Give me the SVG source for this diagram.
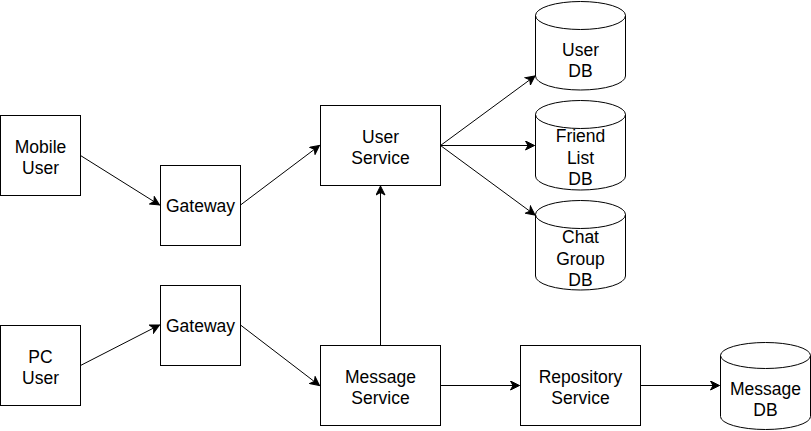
<svg xmlns="http://www.w3.org/2000/svg" width="811" height="431" viewBox="0 0 811 431">
<defs>
<style>
.box{fill:#fff;stroke:#000;stroke-width:1}
.t{font-family:"Liberation Sans",Arial,sans-serif;font-size:17.5px;fill:#000;text-anchor:middle}
.c{fill:none;stroke:#000;stroke-width:1}
</style>
<marker id="ah" markerUnits="userSpaceOnUse" markerWidth="12" markerHeight="10" viewBox="-10 -5 12 10" refX="0" refY="0" orient="auto">
<path d="M-9,-4.5 L0,0 L-9,4.5 L-6.5,0 Z" fill="#000" stroke="#000" stroke-width="1"/>
</marker>
</defs>
<rect width="811" height="431" fill="#fff"/>
<g id="connectors">
<line class="c" x1="80.5" y1="155.5" x2="159.5" y2="205" marker-end="url(#ah)"/>
<line class="c" x1="240.5" y1="205" x2="319.5" y2="145.5" marker-end="url(#ah)"/>
<line class="c" x1="80.5" y1="365.5" x2="159.5" y2="325" marker-end="url(#ah)"/>
<line class="c" x1="240.5" y1="325" x2="319.5" y2="385.5" marker-end="url(#ah)"/>
<line class="c" x1="380.5" y1="345" x2="380.5" y2="186" marker-end="url(#ah)"/>
<line class="c" x1="440.5" y1="385.5" x2="519.5" y2="385.5" marker-end="url(#ah)"/>
<line class="c" x1="640.5" y1="385.5" x2="719.5" y2="385.5" marker-end="url(#ah)"/>
<line class="c" x1="440.5" y1="145.5" x2="535" y2="76" marker-end="url(#ah)"/>
<line class="c" x1="440.5" y1="145.5" x2="534.5" y2="145.5" marker-end="url(#ah)"/>
<line class="c" x1="440.5" y1="145.5" x2="535" y2="215" marker-end="url(#ah)"/>
</g>
<g id="mobile-user">
<rect class="box" x="0.5" y="115.5" width="80" height="80"/>
<text class="t" x="40.5" y="153">Mobile</text>
<text class="t" x="40.5" y="174">User</text>
</g>
<g id="pc-user">
<rect class="box" x="0.5" y="325.5" width="80" height="80"/>
<text class="t" x="40.5" y="363">PC</text>
<text class="t" x="40.5" y="384">User</text>
</g>
<g id="gateway-1">
<rect class="box" x="160.5" y="165.5" width="80" height="80"/>
<text class="t" x="200.5" y="212">Gateway</text>
</g>
<g id="gateway-2">
<rect class="box" x="160.5" y="285.5" width="80" height="80"/>
<text class="t" x="200.5" y="332">Gateway</text>
</g>
<g id="user-service">
<rect class="box" x="320.5" y="105.5" width="120" height="80"/>
<text class="t" x="380.5" y="142.5">User</text>
<text class="t" x="380.5" y="163.5">Service</text>
</g>
<g id="message-service">
<rect class="box" x="320.5" y="345.5" width="120" height="80"/>
<text class="t" x="380.5" y="382.5">Message</text>
<text class="t" x="380.5" y="403.5">Service</text>
</g>
<g id="repository-service">
<rect class="box" x="520.5" y="345.5" width="120" height="80"/>
<text class="t" x="580.5" y="382.5">Repository</text>
<text class="t" x="580.5" y="403.5">Service</text>
</g>
<g id="user-db">
<path class="box" d="M535.5,15.5 A45,14 0 0 1 625.5,15.5 L625.5,76 A45,14 0 0 1 535.5,76 Z"/>
<path class="c" d="M535.5,15.5 A45,14 0 0 0 625.5,15.5"/>
<text class="t" x="580.5" y="56">User</text>
<text class="t" x="580.5" y="77">DB</text>
</g>
<g id="friend-list-db">
<path class="box" d="M535.5,114.5 A45,14 0 0 1 625.5,114.5 L625.5,176 A45,14 0 0 1 535.5,176 Z"/>
<path class="c" d="M535.5,114.5 A45,14 0 0 0 625.5,114.5"/>
<text class="t" x="580.5" y="142">Friend</text>
<text class="t" x="580.5" y="163.5">List</text>
<text class="t" x="580.5" y="185">DB</text>
</g>
<g id="chat-group-db">
<path class="box" d="M535.5,214.5 A45,14 0 0 1 625.5,214.5 L625.5,276 A45,14 0 0 1 535.5,276 Z"/>
<path class="c" d="M535.5,214.5 A45,14 0 0 0 625.5,214.5"/>
<text class="t" x="580.5" y="243">Chat</text>
<text class="t" x="580.5" y="264.5">Group</text>
<text class="t" x="580.5" y="286">DB</text>
</g>
<g id="message-db">
<path class="box" d="M720.5,355.5 A45,13 0 0 1 810.5,355.5 L810.5,416.5 A45,13 0 0 1 720.5,416.5 Z"/>
<path class="c" d="M720.5,355.5 A45,13 0 0 0 810.5,355.5"/>
<text class="t" x="765.5" y="395">Message</text>
<text class="t" x="765.5" y="416">DB</text>
</g>
</svg>
